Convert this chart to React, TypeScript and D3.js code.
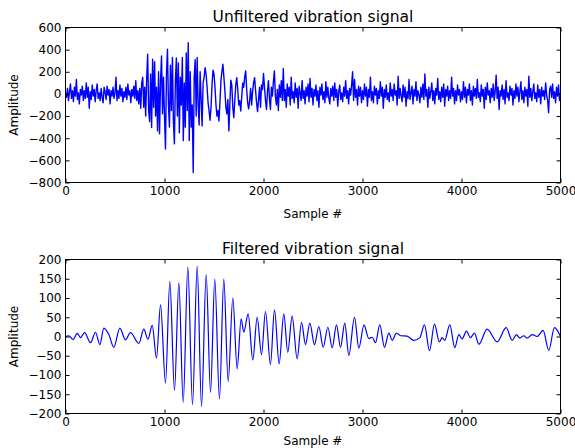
import React, { useEffect, useRef } from 'react';
import * as d3 from 'd3';

// sample axis
const xTicks = [0, 1000, 2000, 3000, 4000, 5000];
const rawTicks = [600, 400, 200, 0, -200, -400, -600, -800];
const filtTicks = [200, 150, 100, 50, 0, -50, -100, -150, -200];
const rawStep = 10; // one value every 10 samples

// unfiltered signal (0 - 990)
const rawA = [
  10, -30, 50, -60, 20, 90, -40, 30, -70, 60,
  -20, 130, -50, 10, -90, 40, -10, 70, -60, 30,
  -40, 100, -30, 60, -130, 20, -50, 80, -20, 40,
  -70, 30, 90, -40, 10, -60, 50, -30, -80, 60,
  20, -50, 70, -10, 40, -90, 30, -20, 60, -40,
  10, 150, -60, 30, -40, 80, -20, 50, -70, 20,
  -30, 60, -50, 90, -10, 30, -80, 40, -20, 70,
  -40, 120, -60, 30, -90, 50, -130, 100, 150, -120,
  60, -200, 140, 358, -150, -250, 180, -304, 313, -120,
  290, -200, 60, -334, 200, -361, 120, 343, -180, 150,
];
// 1000 - 1990
const rawB = [
  -200, -497, 180, 403, -100, -300, 260, -150, 330, -250,
  -451, 120, 325, -200, 280, -350, 150, -100, 330, -421,
  100, -300, 370, -150, 463, -420, 200, -300, -100, -710,
  150, 310, -200, 330, -100, -280, 200, -50, -289, 100,
  150, 238, 180, 60, -80, -150, -238, -120, 80, 214,
  180, 60, -100, -200, -150, -244, -80, 120, 200, 268,
  150, 30, -120, -180, -50, -334, -100, 125, 80, -120,
  -214, -60, 80, 147, 40, -100, -60, -154, -30, 100,
  60, 150, 208, 40, -80, -135, -60, 50, -100, 20,
  100, 147, 30, -80, -160, -50, 60, -120, 80, 40,
];
// 2000 - 2990
const rawC = [
  185, 60, -60, -140, 20, 120, -40, -140, 60, -20,
  110, 208, -20, -100, 40, -150, 80, -30, 120, -60,
  230, -60, 40, -120, 90, -20, 60, -100, 150, -40,
  20, -80, 100, -30, 50, -130, 70, 10, -60, 120,
  -40, 30, -90, 60, -20, 90, -70, 140, -30, 50,
  -100, 40, -20, 80, -60, 30, -120, 60, -10, 90,
  -50, 20, -80, 110, -30, 60, -40, -90, 50, -20,
  70, -60, 100, -30, 40, -110, 20, 80, -50, 10,
  -70, 60, -20, 120, -40, 30, -90, 50, -10, 80,
  200, -60, 130, -30, 40, -100, 70, -20, 60, -80,
];
// 3000 - 3990
const rawD = [
  30, -50, 90, -20, 60, -110, 40, -30, 150, -60,
  20, -80, 70, -10, 50, -90, 30, -40, 110, -20,
  60, -130, 40, -30, 80, -50, 10, -70, 100, -20,
  40, -60, 90, -10, 30, -100, 160, -40, 50, -20,
  -70, 80, -30, 60, -110, 20, -40, 130, -50, 10,
  70, -90, 40, -20, 110, -60, 30, -10, -80, 60,
  -30, 90, -50, 180, -20, 40, -120, 60, -40, 20,
  100, -60, 30, -90, 50, -10, 140, -50, 20, -70,
  60, -30, 90, -110, 40, -20, 70, -60, 30, -40,
  150, -20, 50, -90, 30, -60, 80, -10, 40, -70,
];
// 4000 - 5000
const rawE = [
  20, -50, 110, -30, 60, -80, 40, -10, 90, -60,
  30, -100, 70, -20, 50, -40, 130, -30, 10, -70,
  80, -20, 40, -130, 60, -50, 100, -10, 30, -80,
  50, -30, 90, -60, 20, 170, -40, 60, -140, 30,
  -20, 80, -50, 40, -90, 120, -30, 10, -60, 70,
  -10, 50, -100, 30, -40, 90, -20, 60, -70, 20,
  110, -50, 30, -80, 60, -20, 40, -110, 160, -30,
  50, -60, 20, 90, -40, 10, -70, 80, -30, 40,
  -90, 60, -20, 30, -50, 100, -10, -60, -170, 40,
  70, -30, 90, -40, 20, -80, 60, -20, 80, -60,
  10,
];
const rawValues = [...rawA, ...rawB, ...rawC, ...rawD, ...rawE];

// filtered signal: turning points [sample, amplitude]
const filtPeaks: [number, number][] = [
  [0, 0], [33, 2], [77, -8], [118, 8], [152, -3], [192, 10], [253, -16], [303, 11],
  [347, -21], [387, 22], [438, 5], [488, -28], [549, 22], [606, -9], [656, 10],
  [741, -18], [791, 19], [832, -7], [876, 29], [919, -56], [960, 82], [1010, -121],
  [1054, 143], [1101, -140], [1145, 140], [1189, -171], [1236, 180], [1283, -177],
  [1330, 182], [1374, -182], [1421, 161], [1465, -145], [1508, 149], [1555, -162],
  [1599, 149], [1643, -117], [1690, 100], [1734, -84], [1774, 46], [1801, 11],
  [1845, 59], [1892, -61], [1936, 50], [1980, -47], [2020, 65], [2070, -73],
  [2111, 69], [2158, -71], [2205, 59], [2245, -41], [2289, 53], [2340, -58],
  [2384, 37], [2424, -21], [2468, 35], [2515, -21], [2559, 26], [2603, -28],
  [2650, 24], [2694, -29], [2737, 30], [2778, -28], [2821, 35], [2862, -49],
  [2919, 50], [2963, -30], [3015, 30], [3063, -5], [3098, -2], [3131, -16],
  [3175, 30], [3222, -28], [3266, 9], [3300, -10], [3343, 9], [3384, 2],
  [3450, 1], [3518, -10], [3579, -3], [3626, 30], [3677, -37], [3727, 32],
  [3777, -14], [3805, -3], [3830, -10], [3882, 30], [3932, -29], [3973, 5],
  [4006, -6], [4050, 14], [4090, -3], [4131, 9], [4175, -20], [4259, 19],
  [4360, -14], [4451, 23], [4512, -10], [4555, 5], [4589, -4], [4629, 2],
  [4663, -4], [4714, 5], [4764, 0], [4825, 16], [4881, -36], [4939, 23], [5000, 0],
];

const W = 575, H = 448;
const FONT = "'DejaVu Sans', sans-serif";

const fmt = (d: number) => (d < 0 ? '\u2212' + Math.abs(d) : String(d));

function drawPanel(svg: any, opt: any) {
  const { top, bottom, left, right, yDomain, yTicks, title, data, curve, id, lw, labelGap } = opt;
  const x = d3.scaleLinear().domain([0, 5000]).range([left, right]);
  const y = d3.scaleLinear().domain(yDomain).range([bottom, top]);

  svg.append('clipPath').attr('id', id)
    .append('rect').attr('x', left).attr('y', top)
    .attr('width', right - left).attr('height', bottom - top);

  const line = d3.line<[number, number]>()
    .x(d => x(d[0]))
    .y(d => y(d[1]))
    .curve(curve);

  svg.append('path')
    .datum(data)
    .attr('d', line)
    .attr('clip-path', `url(#${id})`)
    .attr('fill', 'none')
    .attr('stroke', '#0000ff')
    .attr('stroke-width', lw)
    .attr('stroke-linejoin', 'round');

  const styleAxis = (g: any) => {
    g.attr('font-family', FONT).attr('font-size', 12);
    g.select('.domain').remove();
    g.selectAll('line').attr('stroke', '#000');
    g.selectAll('text').attr('fill', '#000');
  };

  svg.append('g').attr('transform', `translate(0,${bottom})`)
    .call(d3.axisBottom(x).tickValues(xTicks).tickFormat(fmt as any).tickSizeInner(-4).tickSizeOuter(0).tickPadding(4))
    .call(styleAxis);
  svg.append('g').attr('transform', `translate(0,${top})`)
    .call(d3.axisTop(x).tickValues(xTicks).tickFormat(() => '').tickSizeInner(-4).tickSizeOuter(0))
    .call(styleAxis);
  svg.append('g').attr('transform', `translate(${left},0)`)
    .call(d3.axisLeft(y).tickValues(yTicks).tickFormat(fmt as any).tickSizeInner(-4).tickSizeOuter(0).tickPadding(4))
    .call(styleAxis);
  svg.append('g').attr('transform', `translate(${right},0)`)
    .call(d3.axisRight(y).tickValues(yTicks).tickFormat(() => '').tickSizeInner(-4).tickSizeOuter(0))
    .call(styleAxis);

  svg.append('rect')
    .attr('x', left).attr('y', top)
    .attr('width', right - left).attr('height', bottom - top)
    .attr('fill', 'none').attr('stroke', '#000').attr('stroke-width', 1);

  svg.append('text')
    .text(title)
    .attr('x', (left + right) / 2).attr('y', top - 6)
    .attr('text-anchor', 'middle')
    .attr('font-family', FONT).attr('font-size', 15.5);

  svg.append('text')
    .text('Sample #')
    .attr('x', (left + right) / 2).attr('y', bottom + labelGap)
    .attr('text-anchor', 'middle')
    .attr('font-family', FONT).attr('font-size', 12);

  svg.append('text')
    .text('Amplitude')
    .attr('transform', `translate(18,${(top + bottom) / 2}) rotate(-90)`)
    .attr('text-anchor', 'middle')
    .attr('font-family', FONT).attr('font-size', 12);
}

const App = () => {
  const ref = useRef<SVGSVGElement>(null);

  useEffect(() => {
    const svg = d3.select(ref.current);
    svg.selectAll('*').remove();

    const rawData: [number, number][] = rawValues.map((v, i) => [i * rawStep, v]);

    drawPanel(svg, {
      id: 'clipRaw', top: 27.5, bottom: 182.5, left: 65.5, right: 560.5,
      yDomain: [-800, 600], yTicks: rawTicks, lw: 1.4, labelGap: 35,
      title: 'Unfiltered vibration signal', data: rawData, curve: d3.curveLinear,
    });
    drawPanel(svg, {
      id: 'clipFilt', top: 259.5, bottom: 413.5, left: 65.5, right: 560.5,
      yDomain: [-200, 200], yTicks: filtTicks, lw: 1.2, labelGap: 31,
      title: 'Filtered vibration signal', data: filtPeaks, curve: d3.curveMonotoneX,
    });
  }, []);

  return (
    <div style={{ position: 'absolute', left: 0, top: 0, background: '#fff' }}>
      <svg ref={ref} width={W} height={H} />
    </div>
  );
};

export default App;
